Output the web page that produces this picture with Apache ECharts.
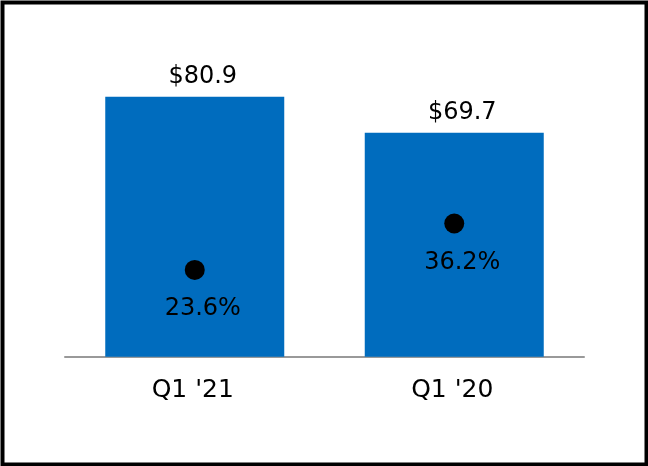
<!DOCTYPE html>
<html>
<head>
<meta charset="utf-8">
<script src="https://cdn.jsdelivr.net/npm/echarts@6/dist/echarts.min.js"></script>
<style>
html,body{margin:0;padding:0;background:#fff;}
#c{width:648px;height:466px;}
</style>
</head>
<body>
<div id="c"></div>
<script>
const categories = ["Q1 '21", "Q1 '20"];
const revenue = [80.9, 69.7];
const revenueLabels = ["$80.9", "$69.7"];
const growth = [23.6, 36.2];
const growthLabels = ["23.6%", "36.2%"];

const chart = echarts.init(document.getElementById('c'), null, {renderer: 'canvas'});
const font = 'DejaVu Sans';
chart.setOption({
  animation: false,
  backgroundColor: '#fff',
  graphic: [{
    type: 'rect', left: 0, top: 0, z: 100,
    shape: {x: 2, y: 2, width: 644, height: 462},
    style: {fill: 'none', stroke: '#000', lineWidth: 4}
  }],
  grid: {left: 65, right: 64, top: 35.4, bottom: 109.2},
  xAxis: {
    type: 'category',
    data: categories,
    axisLine: {lineStyle: {color: '#999', width: 2}},
    axisTick: {show: false},
    axisLabel: {color: '#000', fontFamily: font, fontSize: 25, margin: 21, padding: [0, 4, 0, 0]}
  },
  yAxis: [
    {type: 'value', min: 0, max: 100, show: false},
    {type: 'value', min: 0, max: 87.3, show: false}
  ],
  series: [
    {
      type: 'bar',
      data: revenue,
      barWidth: 179,
      itemStyle: {color: '#006CBE'},
      label: {
        show: true, position: 'top', distance: 8, offset: [8, 0],
        color: '#000', fontFamily: font, fontSize: 24,
        formatter: p => revenueLabels[p.dataIndex]
      }
    },
    {
      type: 'scatter',
      yAxisIndex: 1,
      data: growth,
      symbolSize: 20,
      itemStyle: {color: '#000', opacity: 1},
      label: {
        show: true, position: 'bottom', distance: 17, offset: [8, 0],
        color: '#000', fontFamily: font, fontSize: 24,
        formatter: p => growthLabels[p.dataIndex]
      }
    }
  ]
});
</script>
</body>
</html>
